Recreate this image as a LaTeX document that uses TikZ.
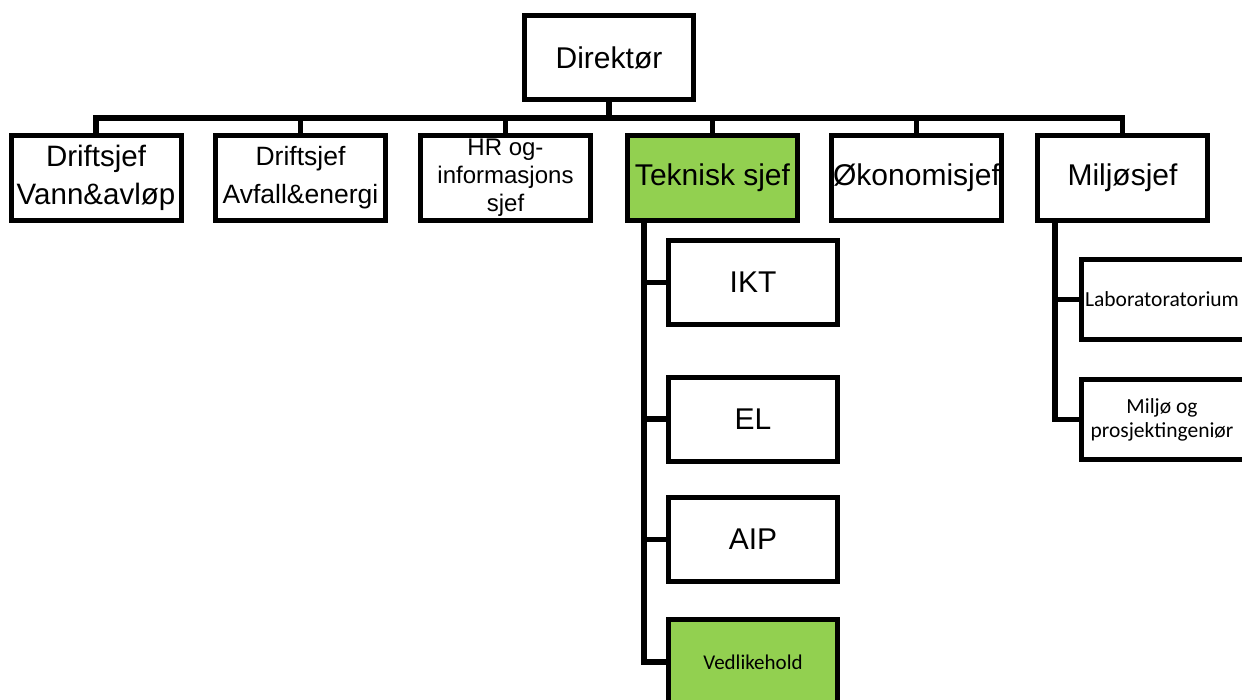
\documentclass[tikz,border=0pt]{standalone}
\usepackage{fontspec}
\setmainfont{Liberation Sans}
\newfontfamily\calibri{Carlito}
\definecolor{boxgreen}{HTML}{92D050}
\begin{document}
\begin{tikzpicture}[x=1pt,y=-1pt,
  orgbox/.style={draw=black, line width=5pt, fill=white, inner sep=0pt, align=center,
    minimum width=170pt, minimum height=85pt},
  conn/.style={draw=black, line width=5.5pt},
  big/.style={font=\fontsize{30}{36}\selectfont},
  mid/.style={font=\fontsize{29.5}{38}\selectfont},
  small/.style={font=\fontsize{24}{28}\selectfont},
  cal/.style={font=\calibri\fontsize{21.5}{24}\selectfont}]
\useasboundingbox (0,0) rectangle (1242,699);
% top
\node[orgbox, big, minimum width=169pt, minimum height=84pt] (dir) at (609,57.5) {Direktør};
% row
\node[orgbox, mid] (d1) at (96,178) {Driftsjef\\Vann\&avløp};
\node[orgbox, mid, font=\fontsize{26.5}{38}\selectfont] (d2) at (300.5,178) {Driftsjef\\Avfall\&energi};
\node[orgbox, small] (hr) at (505.5,178) {HR og-\\informasjons\\sjef};
\node[orgbox, big, fill=boxgreen] (tek) at (712.5,178) {Teknisk sjef};
\node[orgbox, big] (oko) at (916.5,178) {Økonomisjef};
\node[orgbox, big] (mil) at (1122.5,178) {Miljøsjef};
% teknisk subs
\node[orgbox, big, minimum width=169pt, minimum height=84pt] (ikt) at (753,282.5) {IKT};
\node[orgbox, big, minimum width=169pt, minimum height=84pt] (el) at (753,419) {EL};
\node[orgbox, fill=boxgreen, font=\calibri\fontsize{21}{24}\selectfont, minimum width=169pt, minimum height=85pt] (ved) at (753,662) {Vedlikehold};
\node[orgbox, big, minimum width=169pt, minimum height=84pt] (aip) at (753,539.5) {AIP};
% miljo subs
\node[orgbox, minimum width=168pt, minimum height=80pt] (lab) at (1165.5,299.5) {};
\node[cal, inner sep=0pt] (labt) at (1162,299.5) {Laboratoratorium};
\node[orgbox, minimum width=168pt, minimum height=80pt] (mi) at (1165.5,419.5) {};
\node[cal, inner sep=0pt, align=center] (mit) at (1162,419.5) {Miljø og\\prosjektingeniør};
% connectors
\coordinate (bus) at (609,118);
\draw[conn] (dir.south) -- (bus);
\foreach \c in {d1,d2,hr,tek,oko,mil} {
  \draw[conn] (bus) -| (\c.north);
}
\coordinate (tk) at (644,220.5);
\draw[conn] (tk) |- (ved.west);
\foreach \c in {ikt,el,aip} {
  \draw[conn] (tk) |- (\c.west);
}
\coordinate (mk) at (1055,220.5);
\draw[conn] (mk) |- (mi.west);
\draw[conn] (mk) |- (lab.west);
\end{tikzpicture}
\end{document}
